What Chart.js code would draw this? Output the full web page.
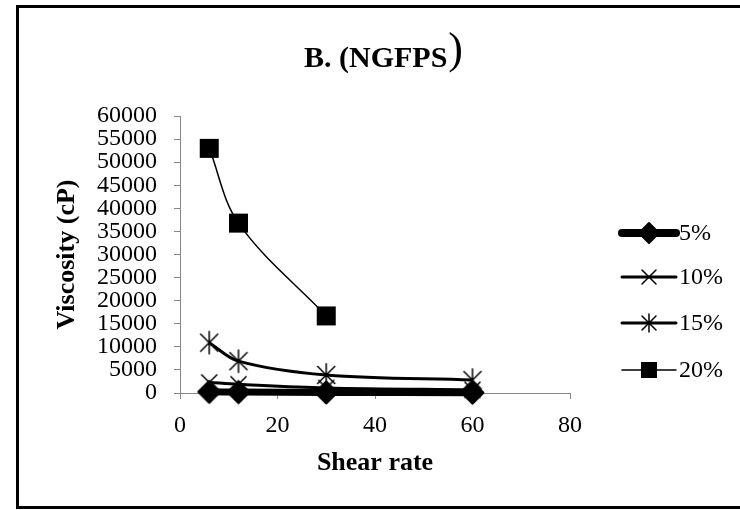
<!DOCTYPE html>
<html><head><meta charset="utf-8">
<script src="https://cdn.jsdelivr.net/npm/chart.js@4"></script>
<style>html,body{margin:0;padding:0;background:#fff}#wrap{width:740px;height:510px;position:relative}canvas{display:block}</style>
</head><body><div id="wrap"><canvas id="c" width="740" height="510"></canvas></div>
<script>
const chartTitle = 'B. (NGFPS';
const xTitle = 'Shear rate';
const yTitle = 'Viscosity (cP)';
const shearRates = [6, 12, 30, 60];
const seriesLabels = ['5%', '10%', '15%', '20%'];
const visc5 = [250, 200, 120, 80];
const visc10 = [2300, 1900, 1100, 700];
const visc15 = [10900, 6900, 3900, 2800];
const visc20 = [53000, 36800, 16700];
const xTickStep = 20, xMax = 80;
const yTickStep = 5000, yMax = 60000;

const serif = "'Liberation Serif','Times New Roman',serif";

function drawMarker(ctx, style, r, x, y) {
  ctx.save();
  ctx.fillStyle = '#000'; ctx.strokeStyle = '#000';
  ctx.beginPath();
  if (style === 'diamond') {
    ctx.lineJoin = 'round'; ctx.lineWidth = 2;
    ctx.moveTo(x, y - r); ctx.lineTo(x + r, y); ctx.lineTo(x, y + r); ctx.lineTo(x - r, y); ctx.closePath(); ctx.fill(); ctx.stroke();
  } else if (style === 'square') {
    ctx.fillRect(x - r, y - r, 2 * r, 2 * r);
  } else if (style === 'x') {
    ctx.lineWidth = 1.5;
    ctx.moveTo(x - r, y - r); ctx.lineTo(x + r, y + r); ctx.moveTo(x + r, y - r); ctx.lineTo(x - r, y + r); ctx.stroke();
  } else if (style === 'star') {
    ctx.lineWidth = 1.5;
    ctx.moveTo(x - r, y - r); ctx.lineTo(x + r, y + r); ctx.moveTo(x + r, y - r); ctx.lineTo(x - r, y + r);
    ctx.moveTo(x, y - r * 1.3); ctx.lineTo(x, y + r * 1.3); ctx.stroke();
  }
  ctx.restore();
}
function markerCanvas(style, r) {
  const size = Math.ceil(r * 2.8) + 4;
  const c = document.createElement('canvas');
  c.width = size; c.height = size;
  drawMarker(c.getContext('2d'), style, r, size / 2, size / 2);
  return c;
}

const styles = [
  {marker:'diamond', r:11, lineWidth:7, legendR:10},
  {marker:'x', r:8, lineWidth:3, legendR:7},
  {marker:'star', r:9, lineWidth:3, legendR:7},
  {marker:'square', r:9.5, lineWidth:1.5, legendR:8}
];
const seriesValues = [visc5, visc10, visc15, visc20];

const datasets = seriesValues.map((vals, i) => ({
  label: seriesLabels[i],
  data: vals.map((v, j) => ({x: shearRates[j], y: v})),
  borderColor: '#000',
  backgroundColor: '#000',
  borderWidth: styles[i].lineWidth,
  pointStyle: markerCanvas(styles[i].marker, styles[i].r),
  pointRadius: styles[i].r,
  tension: 0.35,
  clip: false,
  order: i
}));

const decor = {
  id: 'decor',
  afterDraw(chart) {
    const ctx = chart.ctx;
    ctx.save();
    // frame
    ctx.strokeStyle = '#000'; ctx.lineWidth = 3;
    ctx.strokeRect(17.5, 6.5, 740, 501);
    // title
    ctx.fillStyle = '#000';
    ctx.textBaseline = 'alphabetic';
    ctx.textAlign = 'left';
    ctx.font = 'bold 30px ' + serif;
    const w = ctx.measureText(chartTitle).width;
    const start = 304;
    ctx.fillText(chartTitle, start, 67);
    ctx.font = '44px ' + serif;
    ctx.fillText(')', start + w + 1, 63);
    // legend
    const ys = [233, 277, 323, 370];
    seriesLabels.forEach((lab, i) => {
      const y = ys[i];
      ctx.beginPath();
      ctx.strokeStyle = '#000';
      ctx.lineWidth = i === 0 ? 8 : styles[i].lineWidth;
      ctx.lineCap = 'round';
      ctx.moveTo(622, y); ctx.lineTo(676, y); ctx.stroke();
      drawMarker(ctx, styles[i].marker, styles[i].legendR, 649, y);
      ctx.font = '24px ' + serif;
      ctx.textBaseline = 'middle';
      ctx.textAlign = 'left';
      ctx.fillText(lab, 679, y + 1);
    });
    ctx.restore();
  }
};

new Chart(document.getElementById('c'), {
  type: 'line',
  data: { datasets },
  options: {
    responsive: false,
    devicePixelRatio: 1,
    animation: false,
    layout: { padding: { left: 40, top: 116, right: 170, bottom: 10 } },
    plugins: { legend: { display: false }, title: { display: false }, tooltip: { enabled: false } },
    scales: {
      x: {
        type: 'linear', min: 0, max: xMax,
        afterFit: s => { s.height = 107; },
        ticks: { stepSize: xTickStep, color: '#000', font: { family: serif, size: 24 }, padding: 12, maxRotation: 0 },
        grid: { drawOnChartArea: false, drawTicks: true, tickLength: 6, color: '#878787' },
        border: { color: '#878787', width: 1 },
        title: { display: true, text: xTitle, color: '#000', font: { family: serif, size: 26, weight: 'bold' }, padding: { top: 4, bottom: 21 } }
      },
      y: {
        type: 'linear', min: 0, max: yMax,
        afterFit: s => { s.width = 140; },
        ticks: { stepSize: yTickStep, color: '#000', font: { family: serif, size: 24, lineHeight: 1 }, padding: 17, autoSkip: false,
                 callback: v => String(v) },
        grid: { drawOnChartArea: false, drawTicks: true, tickLength: 6, color: '#878787' },
        border: { color: '#878787', width: 1 },
        title: { display: true, text: yTitle, color: '#000', font: { family: serif, size: 26, weight: 'bold' }, padding: { top: 12, bottom: 0 } }
      }
    }
  },
  plugins: [decor]
});
</script>
</body></html>
